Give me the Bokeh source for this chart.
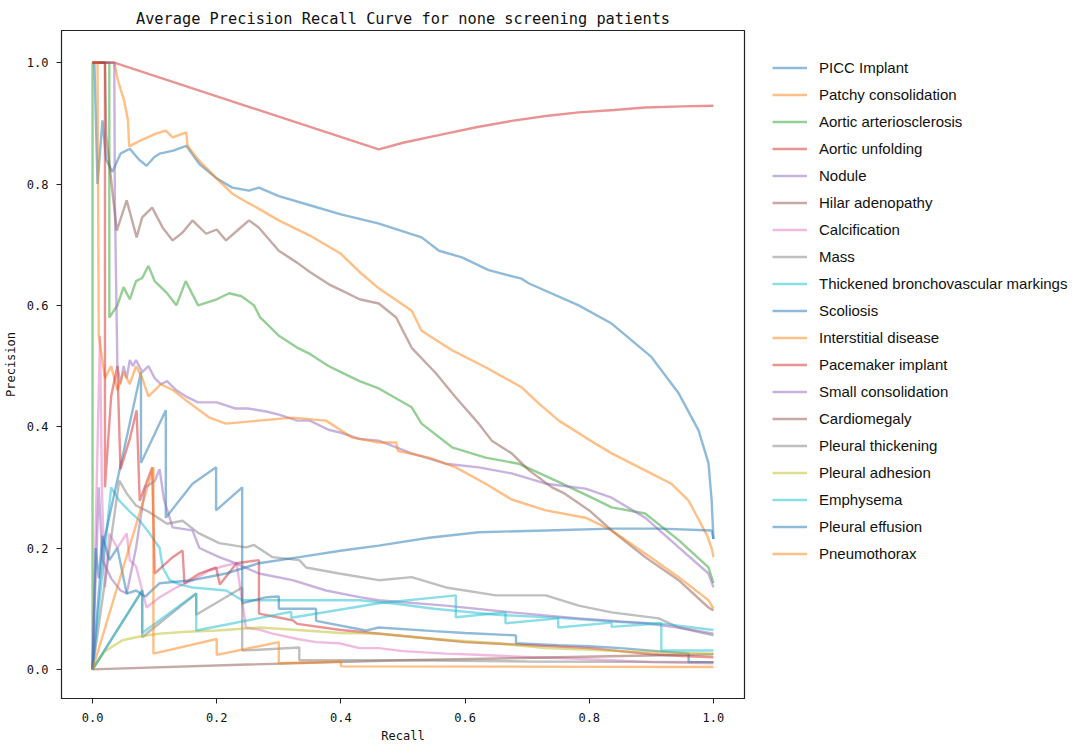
from bokeh.plotting import figure
from bokeh.models import Range1d, Legend, LegendItem, FixedTicker, NumeralTickFormatter
from bokeh.embed import file_html
from bokeh.resources import INLINE

names = ["PICC Implant", "Patchy consolidation", "Aortic arteriosclerosis", "Aortic unfolding",
         "Nodule", "Hilar adenopathy", "Calcification", "Mass",
         "Thickened bronchovascular markings", "Scoliosis", "Interstitial disease",
         "Pacemaker implant", "Small consolidation", "Cardiomegaly", "Pleural thickening",
         "Pleural adhesion", "Emphysema", "Pleural effusion", "Pneumothorax"]
colors = ["#1f77b4", "#ff7f0e", "#2ca02c", "#d62728", "#9467bd", "#8c564b", "#e377c2", "#7f7f7f",
          "#17becf", "#1f77b4", "#ff7f0e", "#d62728", "#9467bd", "#8c564b", "#7f7f7f",
          "#bcbd22", "#17becf", "#1f77b4", "#ff7f0e"]

x_picc = [0.0, 0.003, 0.008, 0.016, 0.022, 0.032, 0.045, 0.06, 0.075, 0.087, 0.1, 0.108, 0.13, 0.151, 0.172, 0.199, 0.225, 0.252, 0.268, 0.3, 0.35, 0.4, 0.46, 0.53, 0.558, 0.595, 0.638, 0.691, 0.703, 0.783, 0.836, 0.9, 0.944, 0.976, 0.992, 0.997, 1.0]
y_picc = [1.0, 1.0, 0.80, 0.905, 0.84, 0.82, 0.85, 0.858, 0.84, 0.83, 0.845, 0.85, 0.855, 0.863, 0.833, 0.81, 0.794, 0.789, 0.794, 0.78, 0.765, 0.75, 0.735, 0.712, 0.69, 0.679, 0.658, 0.644, 0.636, 0.60, 0.57, 0.515, 0.455, 0.394, 0.34, 0.28, 0.215]

x_patchy = [0.0, 0.035, 0.041, 0.051, 0.057, 0.059, 0.076, 0.102, 0.118, 0.129, 0.151, 0.153, 0.172, 0.199, 0.225, 0.252, 0.268, 0.3, 0.35, 0.4, 0.43, 0.461, 0.514, 0.53, 0.579, 0.633, 0.691, 0.719, 0.751, 0.794, 0.836, 0.89, 0.932, 0.96, 0.971, 0.99, 0.997, 1.0]
y_patchy = [1.0, 1.0, 0.97, 0.937, 0.905, 0.862, 0.871, 0.883, 0.888, 0.877, 0.885, 0.863, 0.838, 0.81, 0.784, 0.768, 0.759, 0.74, 0.715, 0.685, 0.655, 0.628, 0.591, 0.558, 0.526, 0.498, 0.465, 0.438, 0.41, 0.382, 0.356, 0.328, 0.306, 0.278, 0.257, 0.22, 0.2, 0.185]

x_aart = [0.0, 0.0, 0.027, 0.027, 0.04, 0.05, 0.06, 0.07, 0.08, 0.09, 0.1, 0.12, 0.135, 0.15, 0.17, 0.2, 0.22, 0.24, 0.26, 0.27, 0.3, 0.33, 0.35, 0.38, 0.4, 0.43, 0.461, 0.514, 0.53, 0.579, 0.633, 0.686, 0.746, 0.804, 0.836, 0.89, 0.944, 0.992, 1.0]
y_aart = [0.0, 1.0, 1.0, 0.58, 0.6, 0.63, 0.61, 0.64, 0.645, 0.665, 0.64, 0.62, 0.6, 0.64, 0.6, 0.61, 0.62, 0.615, 0.6, 0.58, 0.55, 0.53, 0.52, 0.50, 0.49, 0.475, 0.463, 0.432, 0.405, 0.366, 0.349, 0.339, 0.311, 0.283, 0.267, 0.257, 0.213, 0.168, 0.142]

x_aunf = [0.0, 0.035, 0.461, 0.5, 0.569, 0.62, 0.675, 0.73, 0.783, 0.84, 0.89, 0.95, 1.0]
y_aunf = [1.0, 1.0, 0.857, 0.868, 0.883, 0.894, 0.904, 0.912, 0.918, 0.922, 0.926, 0.928, 0.929]

x_nod = [0.0, 0.035, 0.036, 0.04, 0.045, 0.05, 0.055, 0.06, 0.065, 0.07, 0.08, 0.09, 0.1, 0.11, 0.12, 0.135, 0.15, 0.17, 0.2, 0.23, 0.25, 0.28, 0.3, 0.33, 0.35, 0.38, 0.4, 0.43, 0.461, 0.514, 0.569, 0.622, 0.675, 0.73, 0.794, 0.836, 0.89, 0.944, 0.992, 1.0]
y_nod = [1.0, 1.0, 0.77, 0.5, 0.47, 0.5, 0.48, 0.51, 0.5, 0.51, 0.49, 0.5, 0.48, 0.47, 0.475, 0.46, 0.45, 0.44, 0.44, 0.43, 0.43, 0.425, 0.42, 0.41, 0.41, 0.395, 0.39, 0.38, 0.377, 0.356, 0.339, 0.333, 0.323, 0.306, 0.298, 0.283, 0.25, 0.201, 0.158, 0.135]

x_hil = [0.0, 0.02, 0.022, 0.039, 0.055, 0.071, 0.08, 0.096, 0.113, 0.129, 0.145, 0.161, 0.183, 0.2, 0.215, 0.235, 0.252, 0.268, 0.3, 0.33, 0.35, 0.38, 0.4, 0.43, 0.461, 0.489, 0.514, 0.553, 0.585, 0.622, 0.643, 0.675, 0.703, 0.74, 0.76, 0.8, 0.836, 0.89, 0.944, 0.992, 1.0]
y_hil = [1.0, 1.0, 0.88, 0.723, 0.773, 0.712, 0.745, 0.761, 0.728, 0.707, 0.72, 0.74, 0.718, 0.725, 0.707, 0.725, 0.74, 0.728, 0.69, 0.67, 0.655, 0.635, 0.625, 0.61, 0.603, 0.58, 0.53, 0.488, 0.448, 0.405, 0.377, 0.356, 0.328, 0.30, 0.29, 0.262, 0.229, 0.185, 0.147, 0.102, 0.097]

x_cal = [0.0, 0.012, 0.015, 0.02, 0.027, 0.04, 0.055, 0.06, 0.07, 0.087, 0.108, 0.135, 0.161, 0.188, 0.21, 0.232, 0.247, 0.27, 0.29, 0.33, 0.36, 0.397, 0.43, 0.461, 0.5, 0.569, 0.62, 0.707, 0.77, 0.836, 0.9, 1.0]
y_cal = [0.0, 0.55, 0.3, 0.135, 0.224, 0.2, 0.224, 0.18, 0.17, 0.102, 0.119, 0.135, 0.147, 0.163, 0.17, 0.175, 0.069, 0.065, 0.059, 0.05, 0.045, 0.043, 0.035, 0.035, 0.03, 0.026, 0.024, 0.02, 0.018, 0.015, 0.012, 0.01]

x_mass = [0.0, 0.043, 0.055, 0.07, 0.09, 0.12, 0.145, 0.17, 0.204, 0.247, 0.26, 0.29, 0.333, 0.344, 0.397, 0.461, 0.514, 0.569, 0.65, 0.73, 0.783, 0.836, 0.912, 0.944, 1.0]
y_mass = [0.0, 0.311, 0.29, 0.27, 0.26, 0.24, 0.245, 0.225, 0.208, 0.201, 0.205, 0.185, 0.18, 0.168, 0.158, 0.147, 0.152, 0.135, 0.122, 0.122, 0.105, 0.094, 0.084, 0.069, 0.056]

x_thk = [0.0, 0.03, 0.043, 0.06, 0.076, 0.092, 0.108, 0.113, 0.124, 0.14, 0.161, 0.215, 0.241, 0.322, 0.43, 0.482, 0.55, 0.65, 0.75, 0.85, 0.92, 1.0]
y_thk = [0.0, 0.3, 0.278, 0.26, 0.245, 0.224, 0.2, 0.168, 0.147, 0.14, 0.135, 0.13, 0.114, 0.114, 0.114, 0.109, 0.1, 0.09, 0.085, 0.078, 0.075, 0.065]

x_sco = [0.0, 0.016, 0.078, 0.078, 0.118, 0.118, 0.161, 0.199, 0.199, 0.241, 0.241, 0.28, 0.3, 0.3, 0.36, 0.36, 0.44, 0.461, 0.55, 0.6, 0.682, 0.682, 0.75, 0.8, 0.85, 0.96, 0.96, 1.0]
y_sco = [0.0, 0.2, 0.49, 0.34, 0.427, 0.25, 0.306, 0.333, 0.262, 0.3, 0.109, 0.119, 0.12, 0.1, 0.1, 0.08, 0.064, 0.069, 0.063, 0.06, 0.056, 0.043, 0.04, 0.038, 0.035, 0.026, 0.012, 0.012]

x_int = [0.0, 0.008, 0.01, 0.02, 0.03, 0.04, 0.05, 0.06, 0.07, 0.08, 0.09, 0.1, 0.11, 0.13, 0.151, 0.188, 0.215, 0.268, 0.322, 0.376, 0.418, 0.461, 0.489, 0.492, 0.542, 0.585, 0.633, 0.675, 0.73, 0.794, 0.836, 0.89, 0.944, 0.992, 1.0]
y_int = [1.0, 1.0, 0.55, 0.48, 0.5, 0.46, 0.49, 0.47, 0.5, 0.48, 0.45, 0.46, 0.47, 0.46, 0.443, 0.415, 0.405, 0.41, 0.415, 0.41, 0.382, 0.374, 0.374, 0.36, 0.349, 0.333, 0.306, 0.28, 0.262, 0.25, 0.229, 0.191, 0.152, 0.114, 0.1]

x_pace = [0.0, 0.02, 0.02, 0.03, 0.04, 0.045, 0.06, 0.071, 0.076, 0.096, 0.1, 0.129, 0.145, 0.148, 0.172, 0.199, 0.205, 0.232, 0.268, 0.268, 0.322, 0.33, 0.4, 0.45, 0.5, 0.55, 0.6, 0.7, 0.8, 0.85, 0.9, 0.95, 1.0]
y_pace = [1.0, 1.0, 0.3, 0.45, 0.5, 0.33, 0.38, 0.427, 0.278, 0.333, 0.158, 0.185, 0.196, 0.142, 0.158, 0.168, 0.14, 0.175, 0.18, 0.092, 0.081, 0.075, 0.065, 0.06, 0.055, 0.05, 0.045, 0.04, 0.035, 0.03, 0.025, 0.022, 0.02]

x_sc = [0.0, 0.01, 0.016, 0.03, 0.045, 0.055, 0.07, 0.085, 0.1, 0.108, 0.115, 0.129, 0.161, 0.172, 0.204, 0.23, 0.268, 0.322, 0.376, 0.43, 0.461, 0.569, 0.675, 0.783, 0.89, 0.944, 1.0]
y_sc = [0.0, 0.3, 0.18, 0.15, 0.13, 0.125, 0.2, 0.3, 0.31, 0.33, 0.28, 0.234, 0.229, 0.2, 0.185, 0.175, 0.158, 0.147, 0.13, 0.119, 0.114, 0.105, 0.094, 0.084, 0.076, 0.069, 0.059]

x_card = [0.0, 0.25, 0.5, 0.75, 1.0]
y_card = [0.0, 0.008, 0.015, 0.02, 0.025]

x_pth = [0.0, 0.08, 0.08, 0.167, 0.167, 0.241, 0.241, 0.333, 0.333, 0.5, 0.7, 1.0]
y_pth = [0.0, 0.13, 0.053, 0.125, 0.09, 0.135, 0.031, 0.036, 0.015, 0.015, 0.013, 0.012]

x_pad = [0.0, 0.02, 0.048, 0.08, 0.108, 0.15, 0.2, 0.268, 0.33, 0.4, 0.461, 0.55, 0.65, 0.73, 0.85, 1.0]
y_pad = [0.0, 0.03, 0.048, 0.055, 0.059, 0.062, 0.064, 0.069, 0.065, 0.06, 0.059, 0.05, 0.043, 0.035, 0.03, 0.026]

x_emp = [0.0, 0.08, 0.08, 0.167, 0.167, 0.32, 0.32, 0.461, 0.585, 0.585, 0.665, 0.665, 0.75, 0.75, 0.836, 0.836, 0.916, 0.916, 1.0]
y_emp = [0.0, 0.13, 0.06, 0.125, 0.064, 0.095, 0.085, 0.109, 0.122, 0.086, 0.094, 0.076, 0.084, 0.069, 0.077, 0.07, 0.076, 0.031, 0.031]

x_eff = [0.0, 0.005, 0.01, 0.016, 0.027, 0.04, 0.055, 0.07, 0.085, 0.108, 0.161, 0.215, 0.268, 0.333, 0.402, 0.461, 0.542, 0.622, 0.73, 0.836, 0.916, 0.997, 1.0]
y_eff = [0.0, 0.2, 0.15, 0.22, 0.18, 0.2, 0.125, 0.13, 0.12, 0.142, 0.147, 0.158, 0.175, 0.185, 0.196, 0.204, 0.217, 0.226, 0.229, 0.232, 0.232, 0.229, 0.215]

x_pnx = [0.0, 0.098, 0.098, 0.2, 0.2, 0.3, 0.3, 0.4, 0.4, 1.0]
y_pnx = [0.0, 0.333, 0.026, 0.05, 0.024, 0.045, 0.01, 0.013, 0.005, 0.004]

series_x = [x_picc, x_patchy, x_aart, x_aunf, x_nod, x_hil, x_cal, x_mass, x_thk, x_sco,
            x_int, x_pace, x_sc, x_card, x_pth, x_pad, x_emp, x_eff, x_pnx]
series_y = [y_picc, y_patchy, y_aart, y_aunf, y_nod, y_hil, y_cal, y_mass, y_thk, y_sco,
            y_int, y_pace, y_sc, y_card, y_pth, y_pad, y_emp, y_eff, y_pnx]

MONO = "DejaVu Sans Mono"

p = figure(frame_width=683, frame_height=668,
           x_range=Range1d(-0.05, 1.05), y_range=Range1d(-0.048, 1.053),
           title="Average Precision Recall Curve for none screening patients",
           output_backend="svg", toolbar_location=None,
           min_border_left=56, min_border_top=30, min_border_bottom=44, min_border_right=0)

p.title.text_font = MONO
p.title.text_font_size = "15.3px"
p.title.text_font_style = "normal"
p.title.align = "center"
p.title.text_color = "#111111"
p.title.standoff = 6

p.xgrid.visible = False
p.ygrid.visible = False
p.outline_line_color = "#222222"
p.outline_line_width = 1.2
p.background_fill_color = "white"
p.border_fill_color = "white"

for ax in (p.xaxis[0], p.yaxis[0]):
    ax.ticker = FixedTicker(ticks=[0.0, 0.2, 0.4, 0.6, 0.8, 1.0])
    ax.formatter = NumeralTickFormatter(format="0.0")
    ax.major_label_text_font = MONO
    ax.major_label_text_font_size = "12px"
    ax.major_label_text_color = "#111111"
    ax.axis_label_text_font = MONO
    ax.axis_label_text_font_size = "12px"
    ax.axis_label_text_font_style = "normal"
    ax.axis_label_text_color = "#111111"
    ax.major_tick_in = 0
    ax.major_tick_out = 5
    ax.minor_tick_in = 0
    ax.minor_tick_out = 0
    ax.axis_line_color = "#222222"
    ax.major_tick_line_color = "#222222"

p.xaxis.axis_label = "Recall"
p.yaxis.axis_label = "Precision"
p.xaxis.major_label_standoff = 9
p.yaxis.major_label_standoff = 8
p.xaxis.axis_label_standoff = 4
p.yaxis.axis_label_standoff = 6

items = []
for name, col, xs, ys in zip(names, colors, series_x, series_y):
    r = p.line(xs, ys, line_color=col, line_alpha=0.5, line_width=2.4)
    items.append(LegendItem(label=name, renderers=[r]))

legend = Legend(items=items, location=(28, 131))
legend.label_text_font = "Liberation Sans"
legend.label_text_font_size = "15px"
legend.label_text_color = "#111111"
legend.glyph_width = 35
legend.glyph_height = 27
legend.label_height = 27
legend.spacing = 0
legend.label_standoff = 12
legend.padding = 0
legend.margin = 0
legend.border_line_color = None
legend.background_fill_alpha = 0
p.add_layout(legend, "right")

open("out.html", "w").write(file_html(p, INLINE))
